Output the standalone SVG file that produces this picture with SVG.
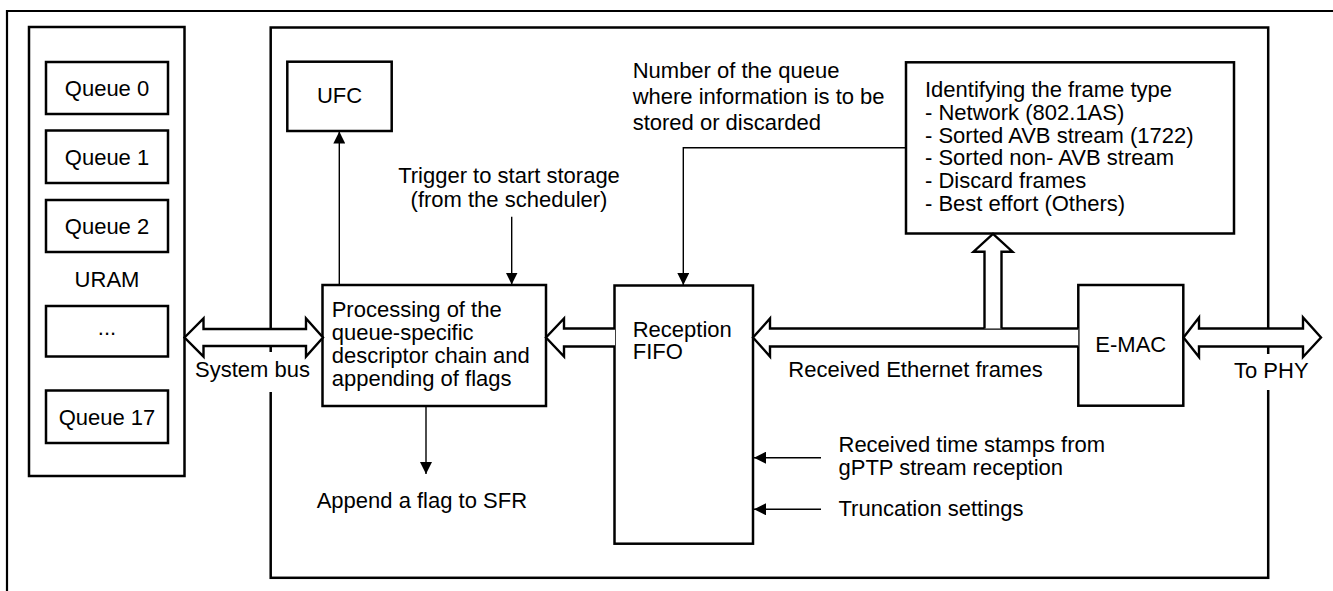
<svg xmlns="http://www.w3.org/2000/svg" width="1333" height="591" viewBox="0 0 1333 591">
<style>
.box{fill:#fff;stroke:#000;stroke-width:2.5}
.frame{fill:none;stroke:#000;stroke-width:2.2}
.t{font-family:"Liberation Sans",Arial,sans-serif;font-size:22px;fill:#000}
.c{text-anchor:middle}
.thin{fill:none;stroke:#000;stroke-width:1.4}
.fat{fill:#fff;stroke:#000;stroke-width:2.4;stroke-linejoin:miter}
.gap{fill:#fff;stroke:none}
</style>
<defs>
<marker id="ah" viewBox="0 0 12 12" markerWidth="12" markerHeight="12" refX="12" refY="6" orient="auto" markerUnits="userSpaceOnUse">
<path d="M0,0 L12,6 L0,12 Z" fill="#000"/>
</marker>
</defs>
<rect width="1333" height="591" fill="#fff"/>
<path class="frame" d="M7,591 V11 H1333"/>

<g id="uram">
<rect class="box" x="29" y="27" width="155.5" height="449"/>
<text class="t c" x="107" y="286.5">URAM</text>
</g>
<g id="queue0"><rect class="box" x="46" y="62" width="122" height="52"/><text class="t c" x="107" y="96">Queue 0</text></g>
<g id="queue1"><rect class="box" x="46" y="130.5" width="122" height="52.5"/><text class="t c" x="107" y="164.5">Queue 1</text></g>
<g id="queue2"><rect class="box" x="46" y="200" width="122" height="52"/><text class="t c" x="107" y="234">Queue 2</text></g>
<g id="queue-more"><rect class="box" x="46" y="306" width="122" height="50.5"/><text class="t c" x="107" y="335">...</text></g>
<g id="queue17"><rect class="box" x="46" y="390.5" width="122" height="52.5"/><text class="t c" x="107" y="424.5">Queue 17</text></g>

<g id="main">
<rect class="box" x="270.7" y="27.5" width="997.5" height="550.3" style="fill:none"/>
</g>

<g id="ufc">
<rect class="box" x="287.3" y="61.7" width="104.4" height="69.3"/>
<text class="t c" x="339.5" y="102.7">UFC</text>
</g>

<g id="processing">
<rect class="box" x="322.5" y="285" width="223.5" height="121"/>
<text class="t" x="331.7" y="317.3">Processing of the</text>
<text class="t" x="331.7" y="340.2">queue-specific</text>
<text class="t" x="331.7" y="363.2">descriptor chain and</text>
<text class="t" x="331.7" y="386">appending of flags</text>
</g>

<g id="fifo">
<rect class="box" x="614.5" y="285.5" width="138.5" height="258.2"/>
<text class="t" x="632.7" y="336.7">Reception</text>
<text class="t" x="632.7" y="359.3">FIFO</text>
</g>

<g id="frametype">
<rect class="box" x="906" y="62.3" width="328" height="171.2"/>
<text class="t" x="925" y="97.3">Identifying the frame type</text>
<text class="t" x="925" y="120">- Network (802.1AS)</text>
<text class="t" x="925" y="142.6">- Sorted AVB stream (1722)</text>
<text class="t" x="925" y="165.2">- Sorted non- AVB stream</text>
<text class="t" x="925" y="187.8">- Discard frames</text>
<text class="t" x="925" y="210.6">- Best effort (Others)</text>
</g>

<g id="emac">
<rect class="box" x="1078.3" y="285" width="105" height="120.7"/>
<text class="t c" x="1130.8" y="351.7">E-MAC</text>
</g>

<g id="connectors">
<line class="thin" x1="339.3" y1="285" x2="339.3" y2="131.5" marker-end="url(#ah)"/>
<line class="thin" x1="511.7" y1="216.7" x2="511.7" y2="284.5" marker-end="url(#ah)"/>
<line class="thin" x1="426" y1="406" x2="426" y2="474" marker-end="url(#ah)"/>
<polyline class="thin" points="906,147.7 683.3,147.7 683.3,285" marker-end="url(#ah)"/>
<line class="thin" x1="821" y1="457.7" x2="754" y2="457.7" marker-end="url(#ah)"/>
<line class="thin" x1="821" y1="509.3" x2="754" y2="509.3" marker-end="url(#ah)"/>

<path class="fat" d="M184.5,337.5 L203.5,318.5 V329 H306 V318.5 L323,337.5 L306,356.5 V346 H203.5 V356.5 Z"/>
<path class="fat" d="M615,328.5 H564 V318.5 L546,337.5 L564,356.5 V346.5 H615"/>
<path class="fat" d="M1078.3,328.5 H770 V318.5 L753,337.5 L770,356.5 V346.5 H1078.3"/>
<path class="fat" d="M984.5,328.5 V251.7 H973.5 L993,233.8 L1012.5,251.7 H1001.5 V328.5"/>
<path class="fat" d="M1183.5,337.5 L1199,317.5 V328.5 H1303 V317.5 L1321,337.5 L1303,357 V346.5 H1199 V357 Z"/>
</g>

<g id="labels">
<rect class="gap" x="264" y="352" width="14" height="40"/>
<rect class="gap" x="1261" y="354" width="14" height="36"/>
<text class="t" x="195" y="377">System bus</text>
<text class="t" x="1234" y="378">To PHY</text>
<text class="t" x="788.3" y="377.3">Received Ethernet frames</text>
<text class="t c" x="509" y="182.7">Trigger to start storage</text>
<text class="t c" x="509" y="206.7">(from the scheduler)</text>
<text class="t" x="632.7" y="78.3">Number of the queue</text>
<text class="t" x="632.7" y="104">where information is to be</text>
<text class="t" x="632.7" y="130">stored or discarded</text>
<text class="t" x="316.7" y="508.3">Append a flag to SFR</text>
<text class="t" x="838.5" y="451.5">Received time stamps from</text>
<text class="t" x="838.5" y="475">gPTP stream reception</text>
<text class="t" x="838.5" y="516">Truncation settings</text>
</g>
</svg>
